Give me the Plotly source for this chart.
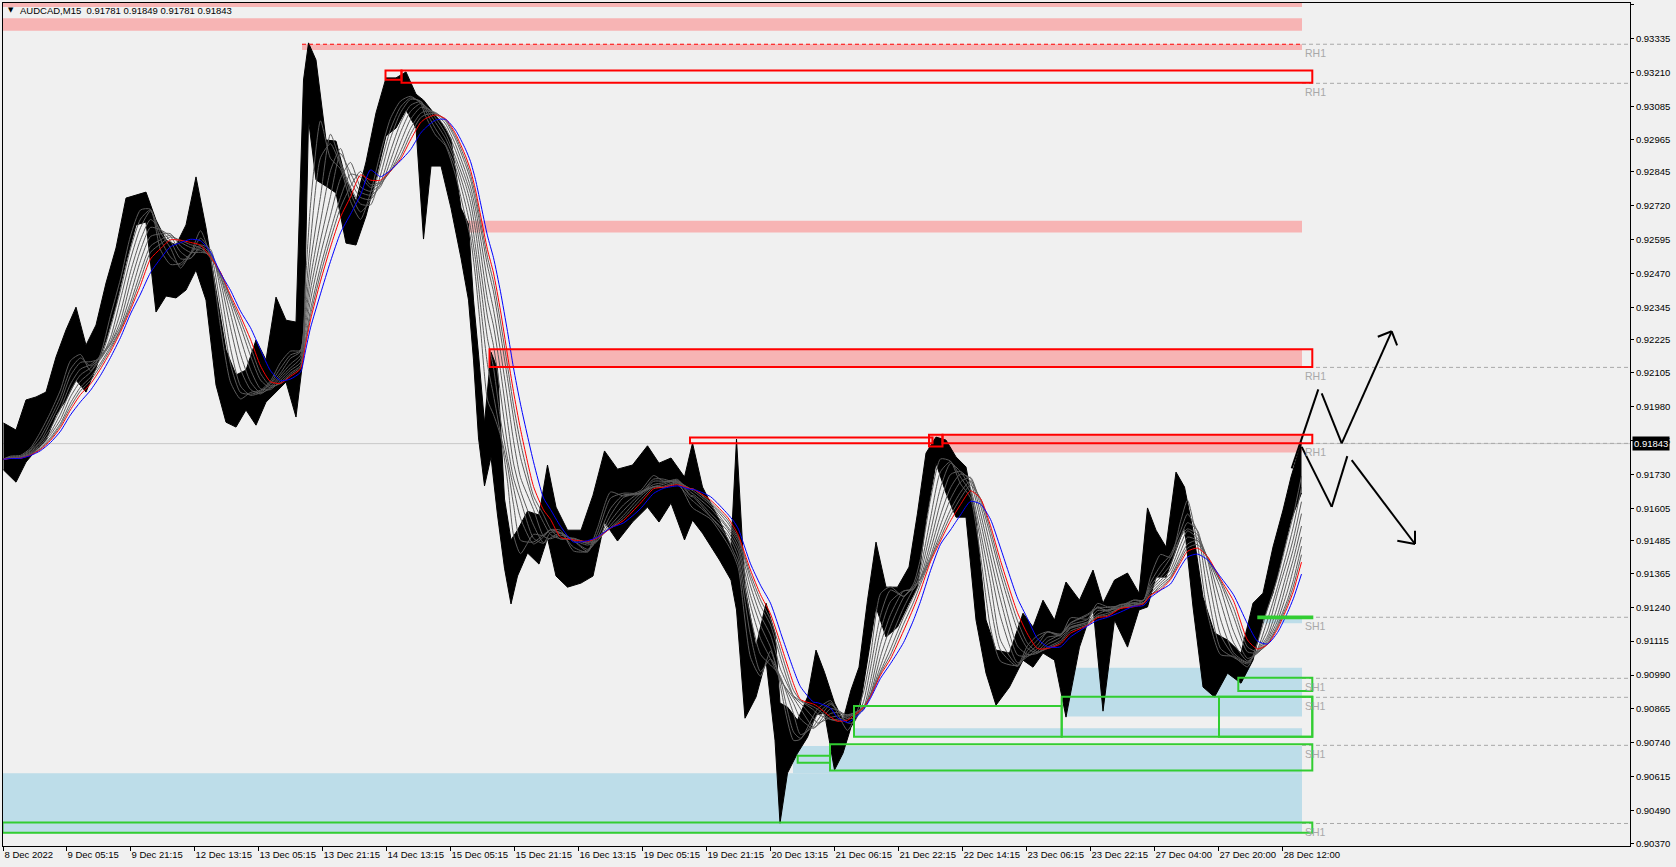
import numpy as np
import plotly.graph_objects as go

header_text = "AUDCAD,M15  0.91781 0.91849 0.91781 0.91843"
last_price = 0.91843

x_tick_bars = [0, 63, 127, 191, 255, 319, 383, 447, 511, 575, 639, 703, 767,
               831, 895, 959, 1023, 1087, 1151, 1215, 1279]
x_tick_labels = ["8 Dec 2022", "9 Dec 05:15", "9 Dec 21:15", "12 Dec 13:15", "13 Dec 05:15",
                 "13 Dec 21:15", "14 Dec 13:15", "15 Dec 05:15", "15 Dec 21:15", "16 Dec 13:15",
                 "19 Dec 05:15", "19 Dec 21:15", "20 Dec 13:15", "21 Dec 06:15", "21 Dec 22:15",
                 "22 Dec 14:15", "23 Dec 06:15", "23 Dec 22:15", "27 Dec 04:00", "27 Dec 20:00",
                 "28 Dec 12:00"]
y_tick_labels = ["0.93460", "0.93335", "0.93210", "0.93085", "0.92965", "0.92845", "0.92720",
                 "0.92595", "0.92470", "0.92345", "0.92225", "0.92105", "0.91980", "0.91855",
                 "0.91730", "0.91605", "0.91485", "0.91365", "0.91240", "0.91115", "0.90990",
                 "0.90865", "0.90740", "0.90615", "0.90490", "0.90370"]
y_tick_values = [float(s) for s in y_tick_labels]

# price, grouped into short runs of M15 bars (last bar index of each run)
seg_end = [7, 17, 27, 37, 47, 57, 67, 77, 87, 97, 107, 117, 127, 137, 147, 157, 167, 177, 187, 197,
           207, 217, 227, 237, 247, 257, 267, 277, 287, 297, 302, 307, 317, 327, 337, 347, 357, 367,
           377, 387, 397, 407, 417, 422, 432, 442, 452, 462, 467, 472, 477, 484, 490, 497, 504, 510,
           517, 530, 540, 547, 557, 570, 584, 594, 607, 620, 637, 650, 660, 674, 687, 690, 707, 724,
           730, 735, 747, 757, 767, 775, 777, 790, 797, 810, 814, 827, 834, 844, 850, 860, 867, 877,
           887, 900, 910, 917, 927, 937, 947, 957, 967, 977, 987, 997, 1014, 1024, 1034, 1044, 1057,
           1067, 1084, 1094, 1104, 1117, 1130, 1140, 1147, 1157, 1167, 1177, 1184, 1194, 1204, 1217,
           1230, 1244, 1254, 1264, 1274, 1284, 1290, 1298]
seg_high = [0.91919, 0.91893, 0.92004, 0.92015, 0.92033, 0.92162, 0.92262, 0.92346, 0.92206, 0.92280,
            0.92435, 0.92564, 0.92748, 0.92759, 0.92770, 0.92667, 0.92593, 0.92575, 0.92649, 0.92826,
            0.92638, 0.92409, 0.92188, 0.92096, 0.92114, 0.92225, 0.92151, 0.92383, 0.92298, 0.92291,
            0.93183, 0.93320, 0.93257, 0.92962, 0.92958, 0.92815, 0.92737, 0.92881, 0.93062, 0.93191,
            0.93191, 0.93213, 0.93131, 0.93109, 0.93076, 0.93028, 0.92966, 0.92711, 0.92652, 0.92372,
            0.92173, 0.91919, 0.92180, 0.92118, 0.91639, 0.91488, 0.91524, 0.91594, 0.91580, 0.91764,
            0.91609, 0.91524, 0.91524, 0.91653, 0.91816, 0.91749, 0.91764, 0.91835, 0.91771, 0.91790,
            0.91720, 0.91845, 0.91683, 0.91561, 0.91462, 0.91860, 0.91314, 0.91093, 0.91255, 0.91145,
            0.90887, 0.90872, 0.90824, 0.90909, 0.91082, 0.91000, 0.90887, 0.90824, 0.90935, 0.91019,
            0.91266, 0.91480, 0.91314, 0.91314, 0.91388, 0.91587, 0.91808, 0.91867, 0.91856, 0.91794,
            0.91757, 0.91561, 0.91193, 0.91082, 0.91071, 0.91218, 0.91167, 0.91266, 0.91193, 0.91333,
            0.91266, 0.91377, 0.91255, 0.91340, 0.91366, 0.91292, 0.91606, 0.91524, 0.91462, 0.91738,
            0.91683, 0.91524, 0.91277, 0.91145, 0.91119, 0.91071, 0.91255, 0.91292, 0.91462, 0.91598,
            0.91720, 0.91849]
seg_low = [0.91746, 0.91701, 0.91775, 0.91819, 0.91856, 0.91948, 0.92004, 0.92077, 0.92033, 0.92122,
           0.92225, 0.92354, 0.92512, 0.92649, 0.92660, 0.92328, 0.92387, 0.92380, 0.92409, 0.92483,
           0.92372, 0.92059, 0.91922, 0.91904, 0.91967, 0.91911, 0.91996, 0.92033, 0.92070, 0.91941,
           0.92170, 0.93036, 0.92815, 0.92792, 0.92767, 0.92582, 0.92575, 0.92682, 0.92822, 0.92977,
           0.93006, 0.93073, 0.93006, 0.92597, 0.92866, 0.92866, 0.92711, 0.92527, 0.92372, 0.92151,
           0.91864, 0.91687, 0.91794, 0.91580, 0.91384, 0.91252, 0.91355, 0.91440, 0.91399, 0.91495,
           0.91355, 0.91314, 0.91329, 0.91355, 0.91554, 0.91484, 0.91554, 0.91609, 0.91554, 0.91624,
           0.91488, 0.91561, 0.91513, 0.91414, 0.91340, 0.91230, 0.90831, 0.90909, 0.91045, 0.90750,
           0.90444, 0.90629, 0.90702, 0.90761, 0.90843, 0.90850, 0.90640, 0.90702, 0.90798, 0.90850,
           0.91045, 0.91241, 0.91130, 0.91167, 0.91255, 0.91314, 0.91561, 0.91771, 0.91661, 0.91572,
           0.91572, 0.91193, 0.90997, 0.90879, 0.90946, 0.91045, 0.91019, 0.91071, 0.91045, 0.90835,
           0.91093, 0.91241, 0.90857, 0.91193, 0.91093, 0.91230, 0.91241, 0.91351, 0.91351, 0.91451,
           0.91536, 0.91241, 0.90946, 0.90909, 0.90997, 0.90960, 0.91045, 0.91193, 0.91292, 0.91440,
           0.91561, 0.91661]
seg_close = [0.91812, 0.91790, 0.91856, 0.91911, 0.91996, 0.92077, 0.92206, 0.92144, 0.92085, 0.92243,
             0.92372, 0.92512, 0.92686, 0.92719, 0.92697, 0.92446, 0.92549, 0.92475, 0.92601, 0.92649,
             0.92428, 0.92151, 0.92004, 0.92011, 0.92048, 0.92033, 0.92107, 0.92170, 0.92195, 0.92180,
             0.93109, 0.93202, 0.92925, 0.92870, 0.92844, 0.92649, 0.92686, 0.92833, 0.92980, 0.93091,
             0.93117, 0.93128, 0.93073, 0.92962, 0.92962, 0.92925, 0.92759, 0.92612, 0.92483, 0.92188,
             0.91930, 0.91856, 0.92077, 0.91709, 0.91488, 0.91359, 0.91469, 0.91524, 0.91488, 0.91580,
             0.91488, 0.91432, 0.91451, 0.91598, 0.91690, 0.91635, 0.91672, 0.91746, 0.91672, 0.91709,
             0.91580, 0.91635, 0.91561, 0.91469, 0.91359, 0.91285, 0.90935, 0.91027, 0.91119, 0.90824,
             0.90750, 0.90732, 0.90787, 0.90861, 0.90898, 0.90898, 0.90769, 0.90787, 0.90898, 0.90972,
             0.91211, 0.91377, 0.91266, 0.91285, 0.91359, 0.91524, 0.91746, 0.91819, 0.91746, 0.91654,
             0.91635, 0.91266, 0.91082, 0.91008, 0.91027, 0.91156, 0.91119, 0.91174, 0.91119, 0.91266,
             0.91193, 0.91303, 0.91193, 0.91266, 0.91266, 0.91266, 0.91488, 0.91414, 0.91432, 0.91654,
             0.91635, 0.91340, 0.91119, 0.91045, 0.91064, 0.91008, 0.91193, 0.91266, 0.91414, 0.91561,
             0.91672, 0.91843]

# moving-average ribbon (periods in bars); level of the averages where the chart begins
ma_periods = [18, 24, 30, 36, 42, 48, 54, 58, 62, 70]
ma_colors = ["#5c5c5c"] * 8 + ["#ff0000", "#0000ff"]
ma_history_close = 0.91785

# zones: (first bar, last bar, low price, high price)
supply_fills = [(-1, 1298.5, 0.93452, 0.93500), (-1, 1298.5, 0.93365, 0.93411),
                (298.5, 1298.5, 0.93294, 0.93315), (459, 1298.5, 0.92621, 0.92664),
                (486, 1298.5, 0.92125, 0.92191), (925.5, 1298.5, 0.91810, 0.91876)]
supply_boxes = [(382, 398, 0.93184, 0.93218), (398, 1308.8, 0.93173, 0.93218),
                (486, 1308.8, 0.92125, 0.92191), (686.5, 929, 0.91844, 0.91866),
                (925.5, 939, 0.91832, 0.91876), (939, 1308.8, 0.91844, 0.91876)]
demand_fills = [(1254.8, 1298.5, 0.91181, 0.91203), (1061.5, 1298.5, 0.90837, 0.91017),
                (850.5, 1298.5, 0.90763, 0.90794), (789.5, 1298.5, 0.90628, 0.90729),
                (-1, 1298.5, 0.90407, 0.90628)]
demand_boxes = [(1254.8, 1308.8, 0.91199, 0.91206), (1234.8, 1308.8, 0.90931, 0.90980),
                (850.5, 1058.2, 0.90763, 0.90876), (1058.2, 1308.8, 0.90763, 0.90910),
                (1215.5, 1308.8, 0.90763, 0.90910), (794.2, 826.5, 0.90667, 0.90693),
                (826.5, 1308.8, 0.90638, 0.90735), (-1, 1308.8, 0.90409, 0.90447)]
level_prices = [0.93315, 0.93171, 0.92124, 0.91844, 0.91203, 0.90978, 0.90908, 0.90731, 0.90443]
level_names = ["RH1", "RH1", "RH1", "RH1", "SH1", "SH1", "SH1", "SH1", "SH1"]
level_start_bar = 1298.5
top_dashed = (298.5, 1298.5, 0.93315)

# hand-drawn projection arrows: (bar0, price0, bar1, price1)
arrow_segments = [(1288.2, 0.91752, 1314.8, 0.92043), (1318.2, 0.92028, 1338.2, 0.91844),
                  (1338.2, 0.91844, 1388.2, 0.92257), (1374.3, 0.92237, 1388.2, 0.92257),
                  (1393.6, 0.92205, 1388.2, 0.92257),
                  (1298.2, 0.91831, 1328.2, 0.91610), (1328.2, 0.91610, 1343.8, 0.91797),
                  (1348.2, 0.91782, 1411.5, 0.91473), (1393.8, 0.91485, 1411.5, 0.91473),
                  (1411.5, 0.91522, 1411.5, 0.91473)]

X_RANGE = [-0.5, 1626.5]
Y_RANGE = [0.90360, 0.93467]

ends = np.array(seg_end, dtype=float)
prev = np.concatenate([[-1.0], ends[:-1]])
counts = (ends - prev).astype(int)
centers = (prev + 1 + ends) / 2.0
centers[0] = 0
centers[-1] = ends[-1]

fig = go.Figure()

# price band (dense M15 bars)
fig.add_trace(go.Scatter(x=centers, y=seg_high, mode="lines", line=dict(color="black", width=1),
                         hoverinfo="skip"))
fig.add_trace(go.Scatter(x=centers, y=seg_low, mode="lines", line=dict(color="black", width=1),
                         fill="tonexty", fillcolor="black", hoverinfo="skip"))

# moving averages
bars_close = np.repeat(np.array(seg_close), counts)
pmax = max(ma_periods)
series = np.concatenate([np.full(pmax, ma_history_close), bars_close])
cs = np.concatenate([[0.0], np.cumsum(series)])
sample_bars = np.concatenate([[0], ends.astype(int)])
for n, col in zip(ma_periods, ma_colors):
    pos = sample_bars + pmax
    sma = (cs[pos + 1] - cs[pos + 1 - n]) / n
    fig.add_trace(go.Scatter(x=sample_bars, y=sma, mode="lines",
                             line=dict(color=col, width=1, shape="spline", smoothing=0.6),
                             hoverinfo="skip"))

# arrows
ax, ay = [], []
for b0, p0, b1, p1 in arrow_segments:
    ax += [b0, b1, None]
    ay += [p0, p1, None]
fig.add_trace(go.Scatter(x=ax, y=ay, mode="lines", line=dict(color="black", width=2),
                         hoverinfo="skip"))

shapes = []
PINK = "#f7b4b4"
BLUE = "#bddde9"
for b0, b1, lo, hi in supply_fills:
    shapes.append(dict(type="rect", xref="x", yref="y", x0=b0, x1=b1, y0=lo, y1=hi,
                       fillcolor=PINK, line=dict(width=0), layer="below"))
for b0, b1, lo, hi in demand_fills:
    shapes.append(dict(type="rect", xref="x", yref="y", x0=b0, x1=b1, y0=lo, y1=hi,
                       fillcolor=BLUE, line=dict(width=0), layer="below"))
# bid line
shapes.append(dict(type="line", xref="x", yref="y", x0=X_RANGE[0], x1=X_RANGE[1],
                   y0=last_price, y1=last_price, line=dict(color="#c8c8c8", width=1), layer="below"))
for p in level_prices:
    shapes.append(dict(type="line", xref="x", yref="y", x0=level_start_bar, x1=X_RANGE[1],
                       y0=p, y1=p, line=dict(color="#a8a8a8", width=1, dash="4px,3px"), layer="below"))
shapes.append(dict(type="line", xref="x", yref="y", x0=top_dashed[0], x1=top_dashed[1],
                   y0=top_dashed[2], y1=top_dashed[2],
                   line=dict(color="#ff0000", width=1, dash="4px,3px"), layer="above"))
for b0, b1, lo, hi in supply_boxes:
    shapes.append(dict(type="rect", xref="x", yref="y", x0=b0, x1=b1, y0=lo, y1=hi,
                       line=dict(color="#ff0000", width=2), fillcolor="rgba(0,0,0,0)", layer="above"))
for b0, b1, lo, hi in demand_boxes:
    shapes.append(dict(type="rect", xref="x", yref="y", x0=b0, x1=b1, y0=lo, y1=hi,
                       line=dict(color="#32cd32", width=2), fillcolor="rgba(0,0,0,0)", layer="above"))

annotations = []
for p, name in zip(level_prices, level_names):
    annotations.append(dict(x=level_start_bar + 1, y=p, xref="x", yref="y", text=name,
                            showarrow=False, xanchor="left", yanchor="top", yshift=-1,
                            font=dict(family="Liberation Sans, Arial", size=10.5, color="#a8a8a8")))
annotations.append(dict(x=0, y=1, xref="paper", yref="paper", text=header_text, showarrow=False,
                        xanchor="left", yanchor="top", xshift=15, yshift=0,
                        font=dict(family="Liberation Sans, Arial", size=9.5, color="black")))
annotations.append(dict(x=0, y=1, xref="paper", yref="paper", text="\u25bc", showarrow=False,
                        xanchor="left", yanchor="top", xshift=3, yshift=-1,
                        font=dict(family="DejaVu Sans", size=7, color="black")))
annotations.append(dict(x=1, y=last_price, xref="paper", yref="y", text="%.5f" % last_price,
                        showarrow=False, xanchor="left", yanchor="middle", xshift=2,
                        bgcolor="black", borderpad=1,
                        font=dict(family="Liberation Sans, Arial", size=9.5, color="white")))

fig.update_layout(
    width=1676, height=867, autosize=False,
    margin=dict(l=3, r=46, t=3, b=21),
    paper_bgcolor="#f0f0f0", plot_bgcolor="#f0f0f0",
    showlegend=False, hovermode=False,
    font=dict(family="Liberation Sans, Arial", size=9.5, color="black"),
    shapes=shapes, annotations=annotations,
    xaxis=dict(range=X_RANGE, tickmode="array", tickvals=x_tick_bars, ticktext=x_tick_labels,
               ticks="outside", ticklen=4, tickcolor="black", tickangle=0,
               ticklabelposition="outside right",
               showline=True, linecolor="black", linewidth=1, mirror=True,
               showgrid=False, zeroline=False, fixedrange=True),
    yaxis=dict(range=Y_RANGE, side="right", tickmode="array", tickvals=y_tick_values,
               ticktext=y_tick_labels, ticks="outside", ticklen=3, tickcolor="black",
               showline=True, linecolor="black", linewidth=1, mirror=True,
               showgrid=False, zeroline=False, fixedrange=True),
)

fig.write_html("out.html", config={"displayModeBar": False, "staticPlot": True},
               post_script="document.body.style.margin='0';document.body.style.overflow='hidden';")
